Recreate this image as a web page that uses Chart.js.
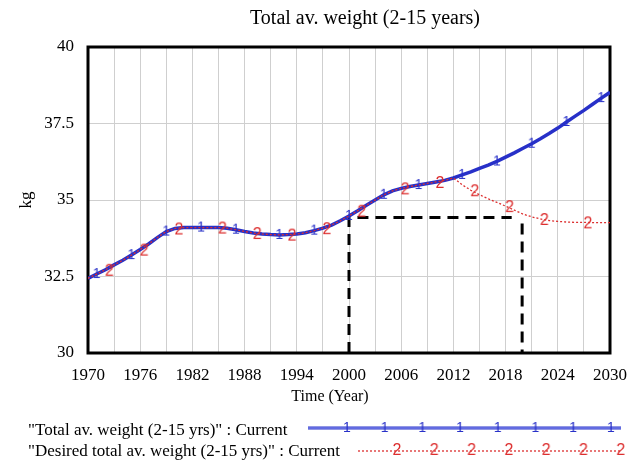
<!DOCTYPE html>
<html>
<head>
<meta charset="utf-8">
<script src="https://cdn.jsdelivr.net/npm/chart.js@4/dist/chart.umd.min.js"></script>
<style>
  html, body { margin: 0; padding: 0; background: #fff; }
  #wrap { width: 639px; height: 462px; }
</style>
</head>
<body>
<div id="wrap"><canvas id="weightChart" width="639" height="462"></canvas></div>
<script>
// ─── DATA ────────────────────────────────────────────────
const years = [
  1970, 1971, 1972, 1973, 1974, 1975, 1976, 1977, 1978, 1979,
  1980, 1981, 1982, 1983, 1984, 1985, 1986, 1987, 1988, 1989,
  1990, 1991, 1992, 1993, 1994, 1995, 1996, 1997, 1998, 1999,
  2000, 2001, 2002, 2003, 2004, 2005, 2006, 2007, 2008, 2009,
  2010, 2011, 2012, 2013, 2014, 2015, 2016, 2017, 2018, 2019,
  2020, 2021, 2022, 2023, 2024, 2025, 2026, 2027, 2028, 2029, 2030
];

// "Total av. weight (2-15 yrs)" : Current
const currentWeight = [
  32.44, 32.58, 32.72, 32.88, 33.03, 33.20, 33.38, 33.57, 33.78, 33.97,
  34.07, 34.10, 34.10, 34.10, 34.10, 34.10, 34.08, 34.03, 33.97, 33.92,
  33.89, 33.87, 33.86, 33.87, 33.89, 33.93, 34.00, 34.08, 34.18, 34.32,
  34.48, 34.65, 34.83, 35.00, 35.17, 35.30, 35.38, 35.44, 35.49, 35.54,
  35.59, 35.64, 35.72, 35.82, 35.92, 36.03, 36.14, 36.26, 36.40, 36.54,
  36.69, 36.84, 37.00, 37.17, 37.35, 37.55, 37.74, 37.93, 38.13, 38.33, 38.52
];

// "Desired total av. weight (2-15 yrs)" : Current
const desiredWeight = [
  32.44, 32.58, 32.72, 32.88, 33.03, 33.20, 33.38, 33.57, 33.78, 33.97,
  34.07, 34.10, 34.10, 34.10, 34.10, 34.10, 34.08, 34.03, 33.97, 33.92,
  33.89, 33.87, 33.86, 33.87, 33.89, 33.93, 34.00, 34.08, 34.18, 34.32,
  34.48, 34.65, 34.83, 35.00, 35.17, 35.30, 35.38, 35.44, 35.49, 35.54,
  35.59, 35.64, 35.72, 35.50, 35.32, 35.17, 35.04, 34.92, 34.80, 34.67,
  34.54, 34.45, 34.38, 34.33, 34.30, 34.28, 34.27, 34.27, 34.26, 34.26, 34.26
];

// years where the series numbers "1" / "2" are printed on the lines
const currentMarkYears = [1971, 1975, 1979, 1983, 1987, 1992, 1996, 2000, 2004, 2008, 2013, 2017, 2021, 2025, 2029];
const desiredMarkYears = [1972, 1976, 1980, 1985, 1989, 1993, 1997, 2001, 2006, 2010, 2014, 2018, 2022, 2027];

// dashed guide box (2000 → 2020)
const guideLeftX  = [2000, 2000, 2018.7];
const guideLeftY  = [30, 34.43, 34.43];
const guideRightX = [2019.9, 2019.9];
const guideRightY = [34.23, 30];

const xTickMin = 1970, xTickMax = 2030;
const yTickMin = 30, yTickMax = 40;

const legendLabels = [
  '"Total av. weight (2-15 yrs)" : Current',
  '"Desired total av. weight (2-15 yrs)" : Current'
];

// ─── COLOURS / FONTS ─────────────────────────────────────
const BLUE  = '#2730c8';
const RED   = '#dc2e2e';
const SERIF = '"Liberation Serif", "Times New Roman", serif';

// ─── GLYPH POINT STYLES ──────────────────────────────────
function makeGlyph(ch, color, size, dx, dy) {
  const c = document.createElement('canvas');
  c.width = 22; c.height = 22;
  const g = c.getContext('2d');
  g.font = size + 'px "Liberation Sans", Arial, sans-serif';
  g.fillStyle = color;
  g.textAlign = 'center';
  g.textBaseline = 'middle';
  g.fillText(ch, 11 + dx, 11 + dy);
  return c;
}
const glyphOne    = makeGlyph('1', BLUE, 14, 0, 0);
const glyphTwo    = makeGlyph('2', RED, 16, 4, 2);
const glyphTwoLeg = makeGlyph('2', RED, 16, 0, 0);

const toPoints = (xs, ys) => xs.map((x, i) => ({ x, y: ys[i] }));

// ─── DECORATION PLUGIN (frame, title, axis names, legend) ─
const decor = {
  id: 'decor',
  beforeDatasetsDraw(chart) {
    const { ctx, chartArea: a } = chart;
    ctx.save();
    ctx.strokeStyle = '#000';
    ctx.lineWidth = 3;
    ctx.strokeRect(a.left, a.top, a.right - a.left, a.bottom - a.top);
    ctx.restore();
  },
  afterDraw(chart) {
    const { ctx } = chart;
    ctx.save();
    ctx.fillStyle = '#000';
    ctx.textBaseline = 'middle';

    ctx.font = '20px ' + SERIF;
    ctx.textAlign = 'center';
    ctx.fillText('Total av. weight (2-15 years)', 365, 19);

    ctx.font = '16px ' + SERIF;
    ctx.fillText('Time (Year)', 330, 397);

    ctx.save();
    ctx.translate(27, 200);
    ctx.rotate(-Math.PI / 2);
    ctx.font = '17px ' + SERIF;
    ctx.fillText('kg', 0, 0);
    ctx.restore();

    // legend
    ctx.font = '17px ' + SERIF;
    ctx.textAlign = 'left';
    ctx.fillText(legendLabels[0], 28, 431);
    ctx.fillText(legendLabels[1], 28, 452);

    // row 1 : blue double line
    ctx.strokeStyle = BLUE;
    ctx.lineWidth = 3;
    ctx.beginPath(); ctx.moveTo(308, 428); ctx.lineTo(621, 428); ctx.stroke();
    ctx.strokeStyle = 'rgba(170,180,255,0.9)';
    ctx.lineWidth = 1;
    ctx.beginPath(); ctx.moveTo(308, 428); ctx.lineTo(621, 428); ctx.stroke();
    for (let k = 0; k < 8; k++) ctx.drawImage(glyphOne, 347 + 37.7 * k - 11, 428 - 11);

    // row 2 : red dotted line
    ctx.strokeStyle = RED;
    ctx.lineWidth = 1.3;
    ctx.setLineDash([2, 2]);
    ctx.beginPath(); ctx.moveTo(358, 451); ctx.lineTo(621, 451); ctx.stroke();
    ctx.setLineDash([]);
    for (let k = 0; k < 7; k++) ctx.drawImage(glyphTwoLeg, 397 + 37.3 * k - 11, 451 - 11);

    ctx.restore();
  }
};

// ─── CHART ───────────────────────────────────────────────
new Chart(document.getElementById('weightChart').getContext('2d'), {
  type: 'line',
  data: {
    datasets: [
      {
        data: toPoints(years, desiredWeight),
        borderColor: RED,
        borderWidth: 1.3,
        borderDash: [2, 2],
        pointStyle: glyphTwo,
        pointRadius: c => desiredMarkYears.includes(c.raw && c.raw.x) ? 6 : 0,
        tension: 0,
        order: 0
      },
      {
        data: toPoints(years, currentWeight),
        borderColor: BLUE,
        borderWidth: 3.5,
        pointStyle: glyphOne,
        pointRadius: c => currentMarkYears.includes(c.raw && c.raw.x) ? 6 : 0,
        tension: 0,
        order: 1
      },
      {
        data: toPoints(guideLeftX, guideLeftY),
        borderColor: '#000',
        borderWidth: 3,
        borderDash: [11, 7],
        pointRadius: 0,
        tension: 0,
        order: 2
      },
      {
        data: toPoints(guideRightX, guideRightY),
        borderColor: '#000',
        borderWidth: 3,
        borderDash: [11, 7],
        pointRadius: 0,
        tension: 0,
        order: 2
      }
    ]
  },
  options: {
    responsive: false,
    animation: false,
    events: [],
    layout: { padding: { top: 47, right: 17, left: 0, bottom: 0 } },
    plugins: {
      legend: { display: false },
      title: { display: false },
      tooltip: { enabled: false }
    },
    scales: {
      x: {
        type: 'linear',
        min: xTickMin,
        max: xTickMax,
        afterFit: s => { s.height = 109; },
        grid: { color: '#cfcfcf', lineWidth: 1, drawTicks: false },
        border: { display: false },
        ticks: {
          stepSize: 3,
          autoSkip: false,
          maxRotation: 0,
          padding: 12,
          color: '#000',
          font: { family: SERIF, size: 17 },
          callback: v => ((v - xTickMin) % 6 === 0 ? String(v) : '')
        }
      },
      y: {
        min: yTickMin,
        max: yTickMax,
        afterFit: s => { s.width = 88; },
        grid: { color: '#cfcfcf', lineWidth: 1, drawTicks: false },
        border: { display: false },
        ticks: {
          stepSize: 2.5,
          padding: 14,
          color: '#000',
          font: { family: SERIF, size: 17 }
        }
      }
    }
  },
  plugins: [decor]
});
</script>
</body>
</html>
